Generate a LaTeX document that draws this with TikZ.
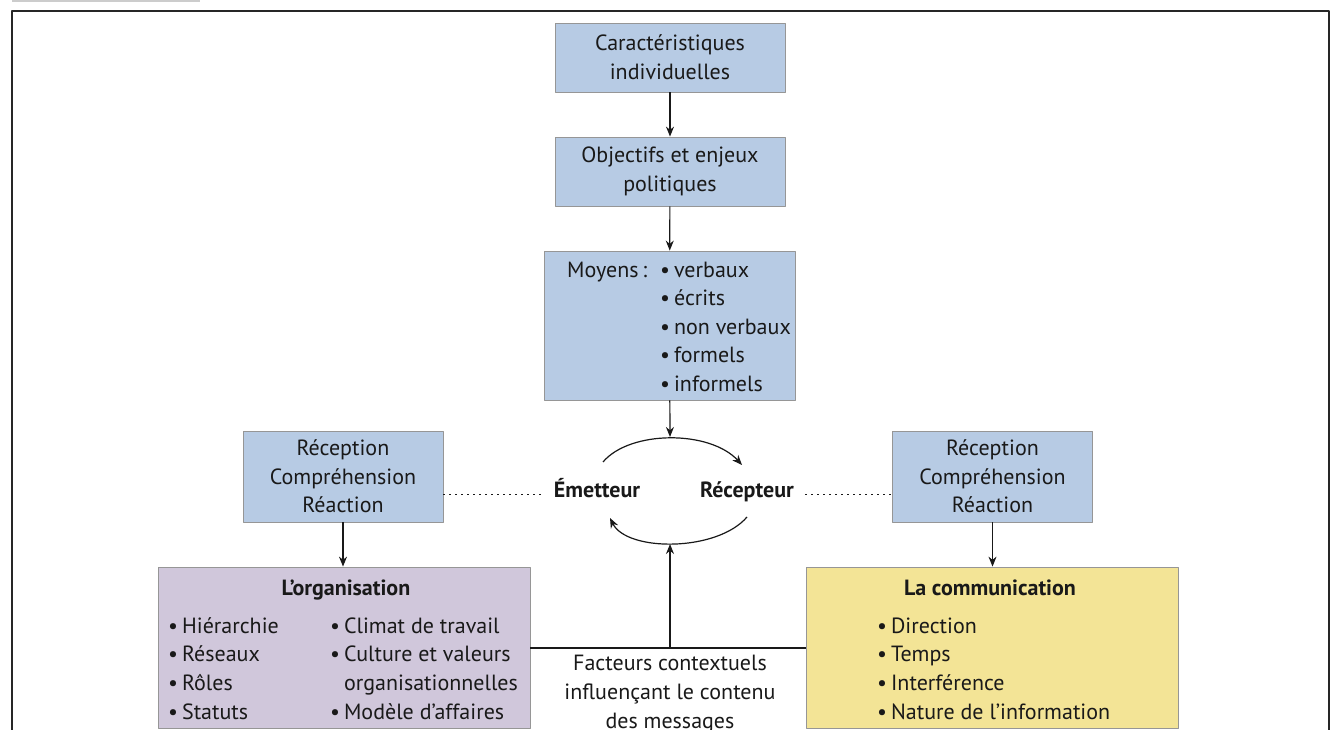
\documentclass[tikz,border=0pt]{standalone}
\usepackage{fontspec}
\setmainfont{PT Sans}
\usetikzlibrary{arrows.meta}
\definecolor{boxblue}{RGB}{183,203,228}
\definecolor{boxmauve}{RGB}{208,199,219}
\definecolor{boxyellow}{RGB}{243,228,150}
\definecolor{boxline}{RGB}{150,150,150}
\definecolor{inkcol}{RGB}{25,25,25}
\newcommand{\diagfont}{\fontsize{22}{28.7}\selectfont}
\newcommand{\puce}{\textbullet\hspace{0.18em}}
\begin{document}
\begin{tikzpicture}[x=1pt, y=-1pt, font=\diagfont, text=inkcol, line join=round,
  >={Stealth[length=10pt,width=8pt]},
  box/.style={draw=boxline, line width=0.8pt, align=center, inner sep=0pt},
  bluebox/.style={box, fill=boxblue},
  txt/.style={inner sep=0pt, anchor=base west},
  link/.style={draw=inkcol, line width=1.2pt},
  dots/.style={draw=inkcol, line width=1.3pt, dash pattern=on 2pt off 4pt}]
\useasboundingbox (0,0) rectangle (1334,730);
\clip (0,0) rectangle (1334,730);
% cadre
\fill[gray!40] (12,0) rectangle (200,2);
\draw[black!85, line width=1.6pt] (12,740) -- (12,11) -- (1329,11) -- (1329,740);
% boites du haut
\node[bluebox, minimum width=230, minimum height=69] (carac) at (670,57.5) {Caractéristiques\\individuelles};
\node[bluebox, minimum width=230, minimum height=69] (objec) at (670,171.5) {Objectifs et enjeux\\politiques};
\node[bluebox, minimum width=251, minimum height=149] (moyens) at (669.5,325.5) {};
\node[txt] (moyenst) at (567,277) {Moyens\,:};
\foreach \t [count=\i] in {verbaux, écrits, non verbaux, formels, informels}
  \node[txt] (moyens\i) at (660,{277+28.6*(\i-1)}) {\puce\t};
% reception
\node[bluebox, minimum width=200, minimum height=91] (recg) at (343,476.5) {Réception\\Compréhension\\Réaction};
\node[bluebox, minimum width=200, minimum height=91] (recd) at (992.5,476.5) {Réception\\Compréhension\\Réaction};
\node[font=\diagfont\bfseries, anchor=base] (emet) at (597,497) {Émetteur};
\node[font=\diagfont\bfseries, anchor=base] (recep) at (747,497) {Récepteur};
\draw[dots, shorten >=8pt] (recg.east |- emet.mid west) -- (emet.mid west);
\draw[dots, shorten <=8pt] (recep.mid east) -- (recd.west |- recep.mid east);
% boucle
\coordinate (arctop) at (670,437);
\coordinate (arcbot) at (670,544);
\draw[link, ->] (603,462) .. controls (630,430) and (710,430) .. (742,465);
\draw[link, ->] (747,517) .. controls (717,552) and (627,552) .. (610,518);
% boites du bas
\node[box, fill=boxmauve, minimum width=372, minimum height=161] (org) at (344,647.5) {};
\node[box, fill=boxyellow, minimum width=372, minimum height=161] (comm) at (992,647.5) {};
\node[font=\diagfont\bfseries, anchor=base] (orgtitre) at (346,595) {L’organisation};
\node[font=\diagfont\bfseries, anchor=base] (commtitre) at (990,595) {La communication};
\foreach \t [count=\i] in {Hiérarchie, Réseaux, Rôles, Statuts}
  \node[txt] (orga\i) at (168,{633+28.7*(\i-1)}) {\puce\t};
\node[txt] (orgb1) at (330,633) {\puce Climat de travail};
\node[txt] (orgb2) at (330,661.7) {\puce Culture et valeurs};
\node[txt] (orgb3) at (330,690.4) {\phantom{\puce}organisationnelles};
\node[txt] (orgb4) at (330,719.1) {\puce Modèle d’affaires};
\foreach \t [count=\i] in {Direction, Temps, Interférence, Nature de l’information}
  \node[txt] (comm\i) at (877,{633+28.7*(\i-1)}) {\puce\t};
\node[align=center, inner sep=0pt, anchor=north] (fact) at (670,655) {Facteurs contextuels\\influençant le contenu\\des messages};
% fleches
\draw[link, ->] (carac) -- (objec);
\draw[link, ->] (objec) -- (moyens);
\draw[link, ->] (moyens) -- (arctop);
\draw[link, ->] (recg) -- (recg.south |- org.north);
\draw[link, ->] (recd) -- (recd.south |- comm.north);
\coordinate (junc) at (670,648);
\draw[link] (org.east |- junc) -- (comm.west |- junc);
\draw[link, ->] (junc) -- (arcbot);
\end{tikzpicture}
\end{document}
